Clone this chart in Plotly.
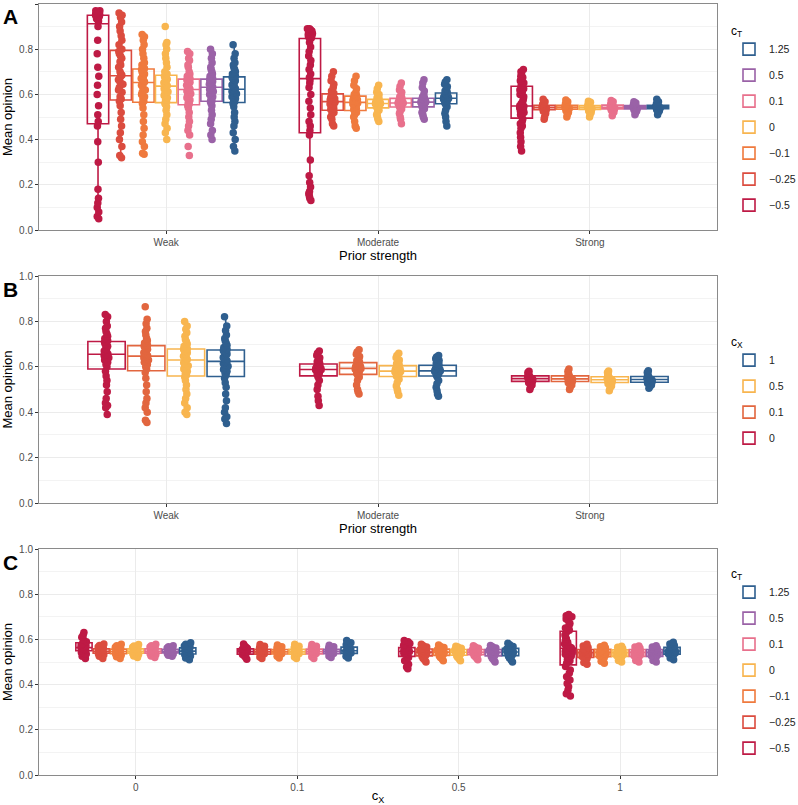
import plotly.graph_objects as go

# ---------------- categories / labels ----------------
ct_labels = ["−0.5", "−0.25", "−0.1", "0", "0.1", "0.5", "1.25"]
ct_colors = ["#BE1A45", "#DB4C3F", "#EF7A3E", "#F8B54F", "#E8708C", "#9A62A7", "#2F5F8F"]
cx_labels = ["0", "0.1", "0.5", "1"]
cx_colors = ["#BE1A45", "#E2663F", "#F8B54F", "#2F5F8F"]
prior_cats = ["Weak", "Moderate", "Strong"]
cx_cats = ["0", "0.1", "0.5", "1"]

# ---------------- Panel A: mean opinion by prior strength, per c_T ----------------
a_weak = [
    [0.05, 0.06, 0.08, 0.10, 0.12, 0.14, 0.18, 0.30, 0.39, 0.46,
     0.48, 0.51, 0.55, 0.60, 0.64, 0.68, 0.72, 0.78, 0.84, 0.90,
     0.925, 0.93, 0.93, 0.935, 0.94, 0.94, 0.945, 0.945, 0.95, 0.95,
     0.95, 0.955, 0.955, 0.96, 0.96, 0.96, 0.965, 0.965, 0.97, 0.97],
    [0.32, 0.33, 0.37, 0.40, 0.43, 0.46, 0.49, 0.52, 0.55, 0.57,
     0.58, 0.59, 0.61, 0.62, 0.63, 0.645, 0.655, 0.665, 0.675, 0.68,
     0.685, 0.69, 0.70, 0.72, 0.73, 0.745, 0.76, 0.77, 0.78, 0.79,
     0.80, 0.82, 0.84, 0.86, 0.88, 0.90, 0.92, 0.94, 0.95, 0.96],
    [0.335, 0.34, 0.37, 0.39, 0.42, 0.45, 0.48, 0.51, 0.54, 0.56,
     0.57, 0.58, 0.59, 0.60, 0.61, 0.62, 0.63, 0.64, 0.645, 0.65,
     0.655, 0.66, 0.665, 0.67, 0.68, 0.685, 0.69, 0.695, 0.70, 0.71,
     0.715, 0.73, 0.74, 0.76, 0.78, 0.80, 0.82, 0.84, 0.855, 0.865],
    [0.40, 0.43, 0.45, 0.47, 0.49, 0.51, 0.53, 0.545, 0.555, 0.56,
     0.567, 0.575, 0.585, 0.595, 0.605, 0.612, 0.62, 0.625, 0.63, 0.635,
     0.638, 0.642, 0.647, 0.652, 0.657, 0.662, 0.667, 0.672, 0.676, 0.68,
     0.69, 0.70, 0.72, 0.74, 0.76, 0.78, 0.80, 0.82, 0.83, 0.90],
    [0.33, 0.37, 0.42, 0.44, 0.46, 0.48, 0.50, 0.52, 0.54, 0.55,
     0.558, 0.565, 0.575, 0.585, 0.595, 0.603, 0.61, 0.615, 0.618, 0.62,
     0.623, 0.628, 0.634, 0.64, 0.645, 0.65, 0.654, 0.658, 0.662, 0.665,
     0.67, 0.68, 0.69, 0.70, 0.72, 0.73, 0.75, 0.76, 0.78, 0.79],
    [0.40, 0.42, 0.44, 0.47, 0.49, 0.51, 0.53, 0.55, 0.56, 0.567,
     0.572, 0.58, 0.59, 0.60, 0.607, 0.613, 0.618, 0.622, 0.626, 0.63,
     0.633, 0.637, 0.641, 0.645, 0.649, 0.653, 0.657, 0.66, 0.663, 0.665,
     0.67, 0.68, 0.69, 0.70, 0.71, 0.72, 0.74, 0.76, 0.78, 0.80],
    [0.35, 0.37, 0.40, 0.43, 0.46, 0.48, 0.50, 0.52, 0.545, 0.56,
     0.568, 0.575, 0.582, 0.59, 0.597, 0.603, 0.608, 0.613, 0.617, 0.62,
     0.625, 0.63, 0.636, 0.642, 0.648, 0.654, 0.66, 0.665, 0.67, 0.675,
     0.68, 0.69, 0.70, 0.71, 0.72, 0.73, 0.74, 0.76, 0.78, 0.82],
]
a_moderate = [
    [0.13, 0.14, 0.15, 0.16, 0.17, 0.19, 0.21, 0.24, 0.31, 0.42,
     0.44, 0.46, 0.48, 0.51, 0.54, 0.57, 0.60, 0.63, 0.65, 0.665,
     0.675, 0.69, 0.71, 0.73, 0.75, 0.77, 0.79, 0.81, 0.83, 0.845,
     0.85, 0.855, 0.86, 0.865, 0.87, 0.875, 0.88, 0.885, 0.89, 0.89],
    [0.46, 0.47, 0.49, 0.50, 0.51, 0.52, 0.527, 0.533, 0.538, 0.543, 0.548, 0.553, 0.558, 0.565,
     0.571, 0.576, 0.581, 0.586, 0.591, 0.596, 0.60, 0.605, 0.615, 0.63, 0.645, 0.66, 0.68, 0.70],
    [0.45, 0.46, 0.48, 0.50, 0.51, 0.52, 0.526, 0.532, 0.537, 0.542, 0.547, 0.552, 0.557, 0.562,
     0.567, 0.572, 0.576, 0.58, 0.584, 0.587, 0.59, 0.595, 0.60, 0.61, 0.625, 0.64, 0.66, 0.68],
    [0.48, 0.49, 0.50, 0.51, 0.52, 0.53, 0.538, 0.543, 0.547, 0.55, 0.553, 0.556, 0.558, 0.559,
     0.561, 0.563, 0.565, 0.567, 0.57, 0.573, 0.576, 0.58, 0.585, 0.59, 0.60, 0.61, 0.625, 0.64],
    [0.47, 0.49, 0.50, 0.515, 0.525, 0.535, 0.542, 0.546, 0.55, 0.553, 0.556, 0.558, 0.56, 0.561,
     0.563, 0.565, 0.568, 0.571, 0.574, 0.577, 0.58, 0.585, 0.59, 0.60, 0.61, 0.62, 0.635, 0.65],
    [0.49, 0.50, 0.51, 0.52, 0.53, 0.537, 0.543, 0.547, 0.551, 0.555, 0.558, 0.561, 0.563, 0.565,
     0.567, 0.569, 0.572, 0.575, 0.577, 0.579, 0.581, 0.585, 0.59, 0.60, 0.615, 0.63, 0.65, 0.665],
    [0.46, 0.48, 0.50, 0.515, 0.53, 0.545, 0.555, 0.562, 0.566, 0.57, 0.573, 0.576, 0.579, 0.582,
     0.584, 0.587, 0.59, 0.593, 0.596, 0.60, 0.604, 0.608, 0.615, 0.625, 0.635, 0.645, 0.655, 0.665],
]
a_strong = [
    [0.35, 0.37, 0.39, 0.41, 0.43, 0.45, 0.46, 0.47, 0.48, 0.49,
     0.50, 0.51, 0.515, 0.52, 0.525, 0.53, 0.535, 0.54, 0.545, 0.548,
     0.55, 0.56, 0.57, 0.58, 0.59, 0.60, 0.61, 0.62, 0.625, 0.632,
     0.64, 0.65, 0.66, 0.66, 0.67, 0.675, 0.68, 0.69, 0.70, 0.71],
    [0.49, 0.50, 0.515, 0.525, 0.53, 0.534, 0.537, 0.539, 0.54, 0.541,
     0.542, 0.543, 0.545, 0.547, 0.55, 0.553, 0.556, 0.56, 0.568, 0.578],
    [0.50, 0.51, 0.52, 0.528, 0.533, 0.536, 0.538, 0.54, 0.541, 0.542,
     0.543, 0.544, 0.546, 0.548, 0.55, 0.553, 0.557, 0.562, 0.568, 0.575],
    [0.50, 0.51, 0.52, 0.527, 0.532, 0.535, 0.537, 0.539, 0.54, 0.541,
     0.542, 0.543, 0.545, 0.547, 0.549, 0.552, 0.555, 0.56, 0.565, 0.57],
    [0.505, 0.515, 0.522, 0.53, 0.534, 0.537, 0.539, 0.54, 0.541, 0.542,
     0.543, 0.544, 0.546, 0.548, 0.551, 0.554, 0.558, 0.562, 0.567, 0.573],
    [0.51, 0.518, 0.525, 0.531, 0.535, 0.537, 0.539, 0.54, 0.541, 0.542,
     0.543, 0.544, 0.545, 0.547, 0.549, 0.552, 0.555, 0.558, 0.562, 0.568],
    [0.51, 0.52, 0.527, 0.532, 0.535, 0.538, 0.54, 0.541, 0.542, 0.543,
     0.544, 0.545, 0.546, 0.548, 0.55, 0.553, 0.557, 0.562, 0.568, 0.578],
]

# ---------------- Panel B: mean opinion by prior strength, per c_X ----------------
b_weak = [
    [0.39, 0.42, 0.43, 0.44, 0.46, 0.49, 0.52, 0.54, 0.56, 0.58,
     0.60, 0.61, 0.62, 0.63, 0.635, 0.64, 0.645, 0.65, 0.652, 0.654,
     0.656, 0.66, 0.665, 0.67, 0.675, 0.68, 0.69, 0.695, 0.70, 0.708,
     0.715, 0.725, 0.735, 0.745, 0.755, 0.77, 0.78, 0.80, 0.82, 0.83],
    [0.355, 0.365, 0.40, 0.42, 0.44, 0.46, 0.49, 0.52, 0.55, 0.575,
     0.59, 0.60, 0.61, 0.62, 0.625, 0.63, 0.635, 0.64, 0.643, 0.645,
     0.649, 0.653, 0.657, 0.662, 0.667, 0.672, 0.677, 0.682, 0.687, 0.692,
     0.695, 0.705, 0.715, 0.725, 0.74, 0.755, 0.77, 0.79, 0.81, 0.865],
    [0.39, 0.40, 0.42, 0.44, 0.46, 0.48, 0.50, 0.52, 0.54, 0.555,
     0.564, 0.572, 0.58, 0.59, 0.598, 0.605, 0.612, 0.618, 0.624, 0.628,
     0.632, 0.637, 0.642, 0.647, 0.652, 0.657, 0.662, 0.667, 0.672, 0.677,
     0.68, 0.69, 0.70, 0.71, 0.72, 0.735, 0.75, 0.765, 0.78, 0.80],
    [0.35, 0.37, 0.38, 0.40, 0.42, 0.45, 0.48, 0.51, 0.53, 0.55,
     0.565, 0.572, 0.58, 0.588, 0.595, 0.602, 0.608, 0.614, 0.619, 0.622,
     0.626, 0.631, 0.636, 0.641, 0.646, 0.651, 0.656, 0.662, 0.667, 0.672,
     0.676, 0.685, 0.695, 0.705, 0.715, 0.725, 0.74, 0.76, 0.78, 0.82],
]
b_moderate = [
    [0.43, 0.45, 0.47, 0.50, 0.52, 0.54, 0.555, 0.565, 0.57, 0.575, 0.58, 0.584, 0.586, 0.587,
     0.589, 0.592, 0.595, 0.598, 0.602, 0.606, 0.61, 0.615, 0.622, 0.63, 0.64, 0.65, 0.66, 0.67],
    [0.48, 0.49, 0.50, 0.52, 0.54, 0.555, 0.563, 0.57, 0.574, 0.578, 0.582, 0.586, 0.589, 0.591,
     0.595, 0.598, 0.601, 0.605, 0.609, 0.613, 0.617, 0.62, 0.627, 0.635, 0.645, 0.655, 0.665, 0.675],
    [0.475, 0.49, 0.50, 0.515, 0.53, 0.545, 0.555, 0.56, 0.564, 0.568, 0.571, 0.574, 0.577, 0.579,
     0.583, 0.586, 0.589, 0.592, 0.596, 0.60, 0.603, 0.607, 0.613, 0.62, 0.63, 0.64, 0.65, 0.66],
    [0.47, 0.48, 0.495, 0.51, 0.525, 0.54, 0.555, 0.564, 0.567, 0.57, 0.573, 0.576, 0.579, 0.581,
     0.583, 0.586, 0.589, 0.593, 0.597, 0.601, 0.605, 0.609, 0.614, 0.62, 0.628, 0.635, 0.643, 0.65],
]
b_strong = [
    [0.50, 0.51, 0.52, 0.53, 0.536, 0.54, 0.543, 0.545, 0.547, 0.549, 0.551, 0.553, 0.556, 0.56,
     0.565, 0.57, 0.575, 0.58],
    [0.50, 0.51, 0.52, 0.53, 0.535, 0.539, 0.542, 0.544, 0.546, 0.548, 0.55, 0.553, 0.556, 0.56,
     0.566, 0.572, 0.58, 0.59],
    [0.495, 0.505, 0.515, 0.525, 0.531, 0.535, 0.538, 0.54, 0.542, 0.544, 0.546, 0.549, 0.552, 0.556,
     0.562, 0.568, 0.575, 0.582],
    [0.505, 0.512, 0.52, 0.527, 0.532, 0.536, 0.539, 0.541, 0.543, 0.545, 0.547, 0.55, 0.553, 0.557,
     0.562, 0.568, 0.575, 0.583],
]

# ---------------- Panel C: mean opinion by c_X, per c_T ----------------
c_0 = [
    [0.515, 0.525, 0.535, 0.542, 0.548, 0.552, 0.555, 0.558, 0.56, 0.562,
     0.565, 0.568, 0.572, 0.575, 0.58, 0.59, 0.60, 0.61, 0.62, 0.63],
    [0.515, 0.525, 0.532, 0.537, 0.54, 0.542, 0.544, 0.546, 0.548, 0.55, 0.553, 0.556, 0.56, 0.566, 0.573, 0.58],
    [0.515, 0.523, 0.53, 0.535, 0.538, 0.541, 0.543, 0.545, 0.547, 0.549, 0.552, 0.555, 0.559, 0.565, 0.572, 0.578],
    [0.52, 0.527, 0.533, 0.537, 0.54, 0.542, 0.544, 0.546, 0.548, 0.55, 0.553, 0.556, 0.56, 0.565, 0.571, 0.577],
    [0.52, 0.527, 0.533, 0.537, 0.54, 0.542, 0.544, 0.546, 0.548, 0.55, 0.553, 0.556, 0.56, 0.566, 0.572, 0.578],
    [0.525, 0.53, 0.535, 0.538, 0.541, 0.543, 0.545, 0.546, 0.548, 0.55, 0.552, 0.555, 0.558, 0.562, 0.567, 0.572],
    [0.51, 0.518, 0.526, 0.533, 0.538, 0.542, 0.545, 0.547, 0.549, 0.552, 0.556, 0.56, 0.565, 0.571, 0.578, 0.585],
]
c_01 = [
    [0.512, 0.52, 0.527, 0.533, 0.537, 0.54, 0.543, 0.545, 0.547, 0.55, 0.553, 0.556, 0.56, 0.565, 0.572, 0.58],
    [0.515, 0.522, 0.528, 0.533, 0.537, 0.54, 0.542, 0.544, 0.546, 0.548, 0.551, 0.554, 0.558, 0.563, 0.57, 0.577],
    [0.518, 0.525, 0.53, 0.534, 0.537, 0.54, 0.542, 0.544, 0.546, 0.548, 0.55, 0.553, 0.557, 0.562, 0.568, 0.575],
    [0.515, 0.522, 0.528, 0.533, 0.537, 0.54, 0.542, 0.544, 0.546, 0.548, 0.551, 0.554, 0.558, 0.563, 0.57, 0.578],
    [0.515, 0.523, 0.529, 0.534, 0.538, 0.541, 0.543, 0.545, 0.547, 0.549, 0.552, 0.555, 0.559, 0.564, 0.57, 0.577],
    [0.52, 0.526, 0.531, 0.535, 0.538, 0.541, 0.543, 0.545, 0.547, 0.549, 0.551, 0.554, 0.558, 0.562, 0.568, 0.574],
    [0.518, 0.525, 0.531, 0.536, 0.54, 0.543, 0.546, 0.548, 0.551, 0.554, 0.558, 0.563, 0.569, 0.576, 0.585, 0.595],
]
c_05 = [
    [0.47, 0.478, 0.49, 0.505, 0.52, 0.53, 0.534, 0.538, 0.542, 0.545,
     0.548, 0.551, 0.555, 0.558, 0.561, 0.566, 0.574, 0.582, 0.59, 0.595],
    [0.50, 0.508, 0.516, 0.524, 0.53, 0.535, 0.539, 0.542, 0.545, 0.548, 0.551, 0.555, 0.56, 0.566, 0.572, 0.578],
    [0.505, 0.513, 0.52, 0.527, 0.532, 0.536, 0.539, 0.542, 0.545, 0.548, 0.551, 0.555, 0.559, 0.564, 0.569, 0.575],
    [0.505, 0.512, 0.52, 0.527, 0.533, 0.537, 0.54, 0.542, 0.544, 0.547, 0.55, 0.553, 0.557, 0.561, 0.566, 0.57],
    [0.51, 0.517, 0.524, 0.53, 0.534, 0.537, 0.54, 0.542, 0.544, 0.547, 0.55, 0.553, 0.557, 0.561, 0.566, 0.572],
    [0.50, 0.508, 0.516, 0.524, 0.53, 0.535, 0.539, 0.542, 0.544, 0.547, 0.55, 0.553, 0.557, 0.562, 0.567, 0.573],
    [0.50, 0.508, 0.517, 0.525, 0.531, 0.536, 0.54, 0.543, 0.546, 0.549, 0.553, 0.558, 0.563, 0.569, 0.576, 0.583],
]
c_1 = [
    [0.35, 0.36, 0.375, 0.39, 0.405, 0.42, 0.435, 0.45, 0.465, 0.48,
     0.495, 0.505, 0.512, 0.52, 0.527, 0.534, 0.541, 0.548, 0.554, 0.559,
     0.563, 0.568, 0.574, 0.58, 0.587, 0.594, 0.602, 0.61, 0.62, 0.632,
     0.64, 0.65, 0.66, 0.67, 0.68, 0.69, 0.695, 0.70, 0.705, 0.71],
    [0.49, 0.498, 0.507, 0.516, 0.524, 0.531, 0.536, 0.54, 0.543, 0.546, 0.549, 0.553, 0.558, 0.564, 0.571, 0.578],
    [0.495, 0.503, 0.512, 0.52, 0.527, 0.533, 0.537, 0.541, 0.544, 0.547, 0.55, 0.554, 0.558, 0.563, 0.568, 0.574],
    [0.50, 0.507, 0.515, 0.522, 0.528, 0.533, 0.537, 0.54, 0.543, 0.546, 0.549, 0.552, 0.556, 0.56, 0.565, 0.57],
    [0.50, 0.507, 0.515, 0.522, 0.528, 0.533, 0.537, 0.541, 0.544, 0.547, 0.55, 0.553, 0.557, 0.561, 0.566, 0.571],
    [0.50, 0.507, 0.515, 0.522, 0.528, 0.533, 0.537, 0.541, 0.544, 0.547, 0.55, 0.553, 0.557, 0.561, 0.566, 0.572],
    [0.51, 0.518, 0.526, 0.532, 0.537, 0.541, 0.544, 0.547, 0.55, 0.553, 0.557, 0.562, 0.567, 0.573, 0.58, 0.587],
]

FONT = "Liberation Sans, Arial, Helvetica, sans-serif"
fig = go.Figure()


def add_panel(cats, groups_by_cat, labels, colors, xa, ya, legend, jitter):
    n = len(labels)
    for i, (lab, col) in enumerate(zip(labels, colors)):
        xs, ys = [], []
        for cat, groups in zip(cats, groups_by_cat):
            xs += [cat] * len(groups[i])
            ys += groups[i]
        fig.add_trace(go.Box(
            x=xs, y=ys, name=lab, xaxis=xa, yaxis=ya, legend=legend,
            legendgroup=legend + lab, legendrank=100 + (n - i), offsetgroup=str(i),
            boxpoints="all", jitter=jitter, pointpos=0, whiskerwidth=0,
            fillcolor="rgba(255,255,255,0)",
            line=dict(color=col, width=1.6),
            marker=dict(color=col, size=7.5, opacity=1, line=dict(width=0)),
            hoverinfo="skip",
        ))


add_panel(prior_cats, [a_weak, a_moderate, a_strong], ct_labels, ct_colors, "x", "y", "legend", 0.25)
add_panel(prior_cats, [b_weak, b_moderate, b_strong], cx_labels, cx_colors, "x2", "y2", "legend2", 0.16)
add_panel(cx_cats, [c_0, c_01, c_05, c_1], ct_labels, ct_colors, "x3", "y3", "legend3", 0.5)

H = 771.0
def py(pix):
    return (775 - pix) / H

axis_common = dict(showline=True, mirror=True, linecolor="#8A8A8A", linewidth=1,
                    ticks="outside", ticklen=3, tickcolor="#333333",
                    gridcolor="#EBEBEB", gridwidth=1, zeroline=False,
                    tickfont=dict(family=FONT, size=10, color="#4D4D4D"))
yax = dict(range=[0, 1], dtick=0.2, tickformat=".1f",
           minor=dict(dtick=0.1, showgrid=True, gridcolor="#F3F3F3", gridwidth=1, ticks=""),
           title=dict(text="Mean opinion", font=dict(family=FONT, size=13, color="black"), standoff=5),
           **axis_common)

fig.update_layout(
    width=798, height=805,
    margin=dict(l=39, r=81, t=4, b=30, autoexpand=False),
    plot_bgcolor="white", paper_bgcolor="white",
    boxmode="group", boxgap=0.25, boxgroupgap=0.06,
    font=dict(family=FONT, color="#222222"),
    xaxis=dict(domain=[0, 1], anchor="y", type="category", categoryorder="array",
               categoryarray=prior_cats, range=[-0.6, 2.6],
               title=dict(text="Prior strength", font=dict(family=FONT, size=13, color="black"), standoff=3),
               **axis_common),
    yaxis=dict(domain=[py(230), py(4)], anchor="x", **yax),
    xaxis2=dict(domain=[0, 1], anchor="y2", type="category", categoryorder="array",
                categoryarray=prior_cats, range=[-0.6, 2.6],
                title=dict(text="Prior strength", font=dict(family=FONT, size=13, color="black"), standoff=3),
                **axis_common),
    yaxis2=dict(domain=[py(503), py(276)], anchor="x2", **yax),
    xaxis3=dict(domain=[0, 1], anchor="y3", type="category", categoryorder="array",
                categoryarray=cx_cats, range=[-0.6, 3.6],
                title=dict(text="c<sub>X</sub>", font=dict(family=FONT, size=13, color="black"), standoff=3),
                **axis_common),
    yaxis3=dict(domain=[py(775), py(549)], anchor="x3", **yax),
)

leg_common = dict(xanchor="left", yanchor="top", traceorder="grouped",
                  tracegroupgap=7, font=dict(family=FONT, size=10.5, color="#222222"),
                  bgcolor="rgba(0,0,0,0)", itemclick=False)
lx = (729 - 39) / 678
fig.update_layout(
    legend=dict(x=lx, y=py(19),
                title=dict(text="c<sub>T</sub>", font=dict(family=FONT, size=12, color="black")), **leg_common),
    legend2=dict(x=lx, y=py(330),
                 title=dict(text="c<sub>X</sub>", font=dict(family=FONT, size=12, color="black")), **leg_common),
    legend3=dict(x=lx, y=py(562),
                 title=dict(text="c<sub>T</sub>", font=dict(family=FONT, size=12, color="black")), **leg_common),
)

for letter, top in [("A", 3), ("B", 276), ("C", 549)]:
    fig.add_annotation(text="<b>%s</b>" % letter, xref="paper", yref="paper",
                       x=(1 - 39) / 678, y=py(top), xanchor="left", yanchor="top",
                       showarrow=False, font=dict(family=FONT, size=21, color="black"))

fig.write_html("out.html")
